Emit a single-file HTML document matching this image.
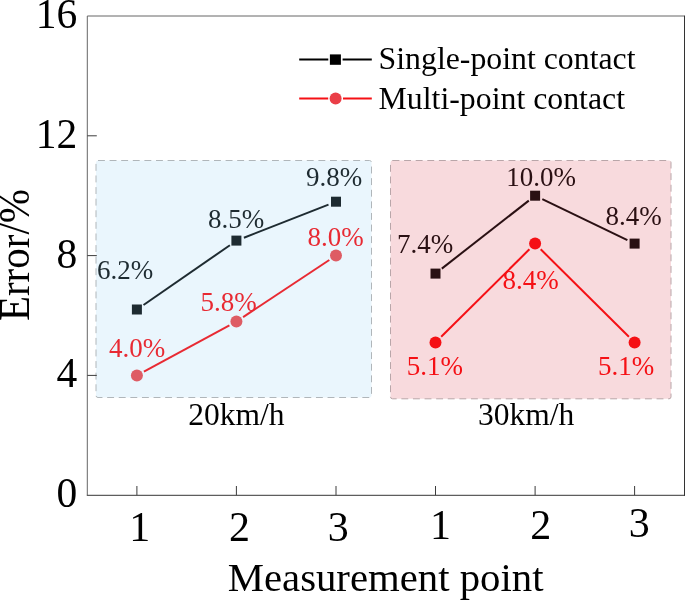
<!DOCTYPE html>
<html><head><meta charset="utf-8"><title>Error chart</title>
<style>
html,body{margin:0;padding:0;background:#fff;}
body{width:685px;height:600px;overflow:hidden;}
svg{display:block;}
text{font-family:"Liberation Serif",serif;}
</style></head><body>
<svg width="685" height="600" viewBox="0 0 685 600">
<rect width="685" height="600" fill="#fff"/>
<rect x="96" y="160.5" width="275.5" height="237" rx="2" fill="#EAF6FD" stroke="#B0B6BA" stroke-width="1" stroke-dasharray="6.9 4.7"/>
<rect x="390.5" y="160.5" width="280.5" height="238.3" rx="2" fill="#F8DADD" stroke="#B9A6A9" stroke-width="1" stroke-dasharray="6.9 4.7"/>
<path d="M87.3 495.2 V16 H684.5" fill="none" stroke="#666" stroke-width="1"/>
<path d="M86.8 495.35 H685" fill="none" stroke="#5e5e5e" stroke-width="1.15"/>
<rect x="684" y="15.6" width="1" height="480.2" fill="#333"/>
<path d="M87.3 375.4 h9.5" stroke="#3c3c3c" stroke-width="1"/>
<path d="M87.3 255.6 h9.5" stroke="#3c3c3c" stroke-width="1"/>
<path d="M87.3 135.8 h9.5" stroke="#3c3c3c" stroke-width="1"/>
<path d="M136.9 495.2 v-9.2" stroke="#3c3c3c" stroke-width="1"/>
<path d="M236.4 495.2 v-9.2" stroke="#3c3c3c" stroke-width="1"/>
<path d="M336.0 495.2 v-9.2" stroke="#3c3c3c" stroke-width="1"/>
<path d="M435.5 495.2 v-9.2" stroke="#3c3c3c" stroke-width="1"/>
<path d="M535.1 495.2 v-9.2" stroke="#3c3c3c" stroke-width="1"/>
<path d="M634.6 495.2 v-9.2" stroke="#3c3c3c" stroke-width="1"/>
<text x="77.2" y="507.1" font-size="41.5" text-anchor="end" fill="#000">0</text>
<text x="77.2" y="387.3" font-size="41.5" text-anchor="end" fill="#000">4</text>
<text x="77.2" y="267.5" font-size="41.5" text-anchor="end" fill="#000">8</text>
<text x="77.2" y="147.7" font-size="41.5" text-anchor="end" fill="#000">12</text>
<text x="77.2" y="27.9" font-size="41.5" text-anchor="end" fill="#000">16</text>
<text x="139.7" y="540.8" font-size="42" text-anchor="middle" fill="#000">1</text>
<text x="239.5" y="540.8" font-size="42" text-anchor="middle" fill="#000">2</text>
<text x="338.2" y="540.8" font-size="42" text-anchor="middle" fill="#000">3</text>
<text x="440.4" y="538.9" font-size="42" text-anchor="middle" fill="#000">1</text>
<text x="540.7" y="538.9" font-size="42" text-anchor="middle" fill="#000">2</text>
<text x="639.2" y="537.0" font-size="42" text-anchor="middle" fill="#000">3</text>
<text x="385.6" y="591.1" font-size="40.75" text-anchor="middle" fill="#000">Measurement point</text>
<text transform="translate(28.8 255.1) rotate(-90) scale(1 1.065)" font-size="41" text-anchor="middle" fill="#000">Error/%</text>
<line x1="143.5" y1="305.0" x2="229.9" y2="245.2" stroke="#1E2B31" stroke-width="2"/>
<line x1="243.9" y1="237.7" x2="328.5" y2="204.6" stroke="#1E2B31" stroke-width="2"/>
<rect x="131.9" y="304.5" width="10" height="10" fill="#1E2B31"/>
<rect x="231.4" y="235.6" width="10" height="10" fill="#1E2B31"/>
<rect x="331.0" y="196.7" width="10" height="10" fill="#1E2B31"/>
<line x1="143.9" y1="371.6" x2="229.4" y2="325.3" stroke="#E82A33" stroke-width="2"/>
<line x1="243.1" y1="317.1" x2="329.3" y2="260.0" stroke="#E82A33" stroke-width="2"/>
<circle cx="136.9" cy="375.4" r="6" fill="#DE5C64"/>
<circle cx="236.4" cy="321.5" r="6" fill="#DE5C64"/>
<circle cx="336.0" cy="255.6" r="6" fill="#DE5C64"/>
<line x1="441.8" y1="268.6" x2="528.8" y2="200.6" stroke="#2A1013" stroke-width="2"/>
<line x1="542.3" y1="199.2" x2="627.4" y2="240.1" stroke="#2A1013" stroke-width="2"/>
<rect x="430.5" y="268.6" width="10" height="10" fill="#2A1013"/>
<rect x="530.1" y="190.7" width="10" height="10" fill="#2A1013"/>
<rect x="629.6" y="238.6" width="10" height="10" fill="#2A1013"/>
<line x1="441.2" y1="336.8" x2="529.4" y2="249.3" stroke="#F51015" stroke-width="2"/>
<line x1="540.7" y1="249.3" x2="628.9" y2="336.8" stroke="#F51015" stroke-width="2"/>
<circle cx="435.5" cy="342.5" r="6" fill="#F51015"/>
<circle cx="535.1" cy="243.6" r="6" fill="#F51015"/>
<circle cx="634.6" cy="342.5" r="6" fill="#F51015"/>
<text x="125.2" y="279" font-size="27" text-anchor="middle" fill="#1E2B31">6.2%</text>
<text x="236" y="227.8" font-size="27" text-anchor="middle" fill="#1E2B31">8.5%</text>
<text x="334" y="185.7" font-size="27" text-anchor="middle" fill="#1E2B31">9.8%</text>
<text x="137" y="356.7" font-size="27" text-anchor="middle" fill="#E82A33">4.0%</text>
<text x="228.6" y="310.9" font-size="27" text-anchor="middle" fill="#E82A33">5.8%</text>
<text x="335.5" y="246.3" font-size="27" text-anchor="middle" fill="#E82A33">8.0%</text>
<text x="425" y="253.4" font-size="27" text-anchor="middle" fill="#2A1013">7.4%</text>
<text x="541" y="185.5" font-size="27" text-anchor="middle" fill="#2A1013">10.0%</text>
<text x="633.6" y="225.2" font-size="27" text-anchor="middle" fill="#2A1013">8.4%</text>
<text x="434.8" y="375" font-size="27" text-anchor="middle" fill="#F51015">5.1%</text>
<text x="530.5" y="288.8" font-size="27" text-anchor="middle" fill="#F51015">8.4%</text>
<text x="626" y="375" font-size="27" text-anchor="middle" fill="#F51015">5.1%</text>
<text x="236.4" y="424.6" font-size="31.5" text-anchor="middle" fill="#000">20km/h</text>
<text x="526.1" y="424.6" font-size="31.5" text-anchor="middle" fill="#000">30km/h</text>
<path d="M299.2 59.6 H328.3 M342.6 59.6 H371.8" stroke="#000" stroke-width="2"/>
<rect x="329.9" y="54.4" width="11" height="10.4" fill="#000"/>
<path d="M299.2 98.6 H328.2 M343 98.6 H371.8" stroke="#F51015" stroke-width="2"/>
<circle cx="335.6" cy="98.5" r="6" fill="#EA3E47"/>
<text x="378.6" y="69.4" font-size="31.8" fill="#000">Single-point contact</text>
<text x="378.6" y="108.8" font-size="31.8" fill="#000">Multi-point contact</text>
</svg></body></html>
